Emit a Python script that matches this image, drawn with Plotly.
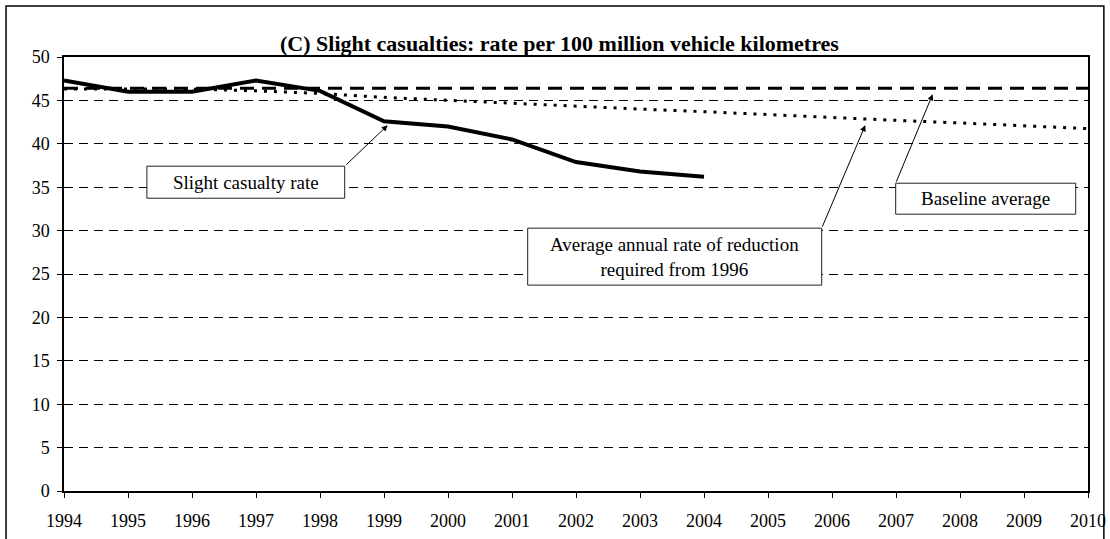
import plotly.graph_objects as go

# Years on the horizontal axis
years_actual = [1994, 1995, 1996, 1997, 1998, 1999, 2000, 2001, 2002, 2003, 2004]
years_full = list(range(1994, 2011))

# Slight casualty rate per 100 million vehicle kilometres
slight_rate = [47.3, 46.0, 46.0, 47.3, 46.1, 42.6, 42.0, 40.5, 37.9, 36.8, 36.2]

# 1994-98 baseline average, held flat to 2010
baseline_avg = [46.4] * len(years_full)

# Path at the average annual rate of reduction required from 1996
reduction_path = [46.3, 46.3, 46.3, 46.1, 45.8, 45.35, 45.0, 44.7, 44.35,
                  44.0, 43.7, 43.35, 43.0, 42.7, 42.4, 42.05, 41.75]

y_ticks = [0, 5, 10, 15, 20, 25, 30, 35, 40, 45, 50]
x_tick_labels = [str(y) for y in years_full]

FONT = "Liberation Serif, Times New Roman, serif"

fig = go.Figure()

fig.add_trace(go.Scatter(
    x=years_full, y=baseline_avg, mode="lines",
    line=dict(color="black", width=3, dash="14px,8px"),
    hoverinfo="skip", showlegend=False))

fig.add_trace(go.Scatter(
    x=years_full, y=reduction_path, mode="lines",
    line=dict(color="black", width=3, dash="3px,7px"),
    hoverinfo="skip", showlegend=False))

fig.add_trace(go.Scatter(
    x=years_actual, y=slight_rate, mode="lines",
    line=dict(color="black", width=4),
    hoverinfo="skip", showlegend=False))

# Label boxes
boxes = [
    dict(x0=1995.295, x1=1998.386, y0=33.73, y1=37.42),
    dict(x0=2001.245, x1=2005.839, y0=23.72, y1=30.28),
    dict(x0=2006.995, x1=2009.808, y0=31.89, y1=35.46),
]
shapes = []
for b in boxes:
    shapes.append(dict(type="rect", xref="x", yref="y", **b,
                       line=dict(color="#222222", width=1),
                       fillcolor="white", layer="above"))

# Outer chart frame
shapes.append(dict(type="rect", xref="paper", yref="paper",
                   x0=-0.0566, x1=1.0155, y0=-0.3, y1=1.1175,
                   line=dict(color="black", width=1.5), layer="below"))

annotations = [
    dict(text="<b>(C) Slight casualties: rate per 100 million vehicle kilometres</b>",
         xref="paper", yref="paper", x=0.484, y=1.030,
         xanchor="center", yanchor="middle", showarrow=False,
         font=dict(family=FONT, size=22, color="black")),
    dict(text="Slight casualty rate", xref="x", yref="y",
         x=1996.84, y=35.58, showarrow=False,
         font=dict(family=FONT, size=19, color="black")),
    dict(text="Average annual rate of reduction<br>required from 1996",
         xref="x", yref="y", x=2003.54, y=27.0, showarrow=False,
         font=dict(family=FONT, size=19, color="black")),
    dict(text="Baseline average", xref="x", yref="y",
         x=2008.40, y=33.68, showarrow=False,
         font=dict(family=FONT, size=19, color="black")),
    # Arrows from boxes to the lines they describe
    dict(text="", xref="x", yref="y", x=1999.058, y=42.14,
         axref="x", ayref="y", ax=1998.386, ay=37.42,
         showarrow=True, arrowhead=2, arrowsize=1.2, arrowwidth=1,
         arrowcolor="black", standoff=0, startstandoff=0),
    dict(text="", xref="x", yref="y", x=2006.52, y=42.14,
         axref="x", ayref="y", ax=2005.839, ay=30.28,
         showarrow=True, arrowhead=2, arrowsize=1.2, arrowwidth=1,
         arrowcolor="black", standoff=0, startstandoff=0),
    dict(text="", xref="x", yref="y", x=2007.573, y=45.71,
         axref="x", ayref="y", ax=2006.995, ay=35.46,
         showarrow=True, arrowhead=2, arrowsize=1.2, arrowwidth=1,
         arrowcolor="black", standoff=0, startstandoff=0),
]

fig.update_layout(
    width=1110, height=539,
    margin=dict(l=64, r=22, t=57, b=48, autoexpand=False),
    paper_bgcolor="white", plot_bgcolor="white",
    font=dict(family=FONT, size=18, color="black"),
    shapes=shapes, annotations=annotations,
    showlegend=False,
)

fig.update_xaxes(
    range=[1994, 2010], tickmode="array", tickvals=years_full,
    ticktext=x_tick_labels, ticks="outside", ticklen=5, tickwidth=1,
    tickcolor="black", showline=True, linecolor="black", linewidth=1.5,
    mirror=True, showgrid=False, zeroline=False, ticklabelstandoff=8,
    automargin=False,
    tickfont=dict(family=FONT, size=18, color="black"),
)

fig.update_yaxes(
    range=[0, 50], tickmode="array", tickvals=y_ticks, ticks="outside",
    ticklen=5, tickwidth=1, tickcolor="black", showline=True,
    linecolor="black", linewidth=1.5, mirror=True,
    showgrid=True, gridcolor="black", gridwidth=1, griddash="9px,6px",
    zeroline=False, ticklabelstandoff=4, automargin=False,
    tickfont=dict(family=FONT, size=18, color="black"),
)

fig.write_html("out.html")
